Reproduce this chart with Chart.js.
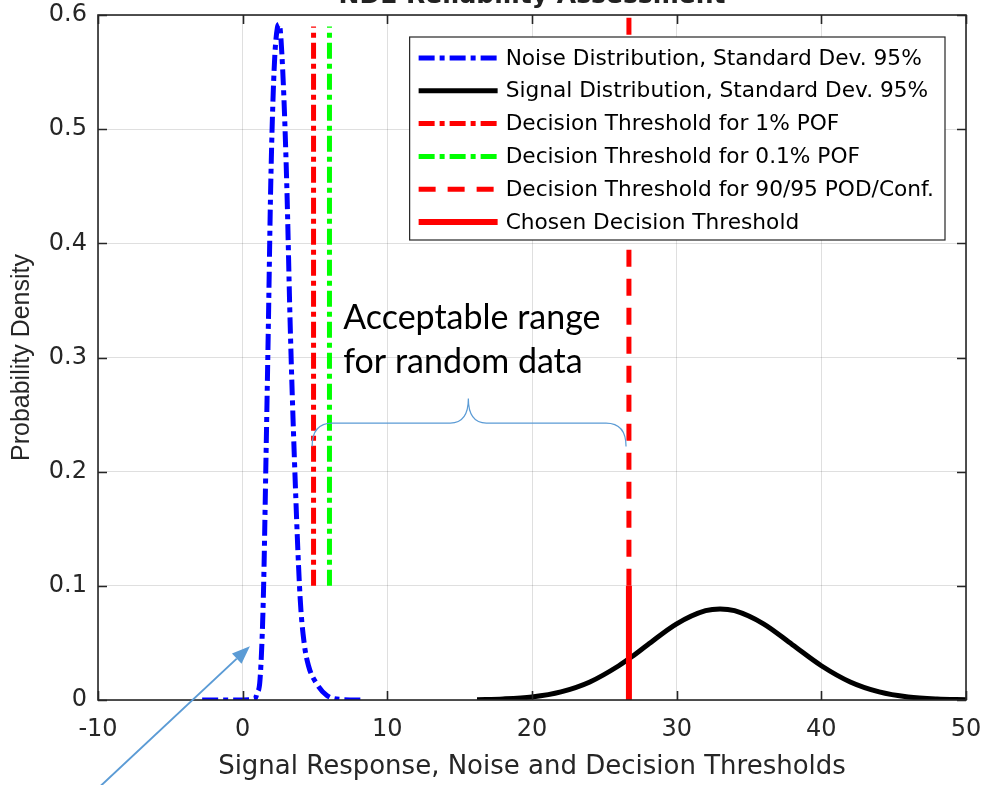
<!DOCTYPE html>
<html>
<head>
<meta charset="utf-8">
<title>NDE Reliability Assessment</title>
<script src="https://cdn.jsdelivr.net/npm/chart.js@4/dist/chart.umd.min.js"></script>
<style>
    body { margin: 0; background: #fff; }
    #wrap { width: 981px; height: 785px; }
</style>
</head>
<body>
<div id="wrap"><canvas id="ndeChart" width="981" height="785"></canvas></div>
<script>
// values
const noiseX = [-2.8, 0, 0.85, 1.0, 1.2, 1.43, 1.61, 1.78, 1.94, 2.17, 2.4, 2.52, 2.77, 3.05, 3.28, 3.58, 3.97, 4.25, 4.55, 5.13, 5.82, 6.74, 8.3];
const noiseY = [0, 0, 0.001, 0.006, 0.018, 0.09, 0.21, 0.331, 0.451, 0.551, 0.589, 0.592, 0.551, 0.451, 0.331, 0.21, 0.09, 0.05, 0.03, 0.014, 0.004, 0.0005, 0];

const signalX = [16.2, 18, 20, 22, 24, 26, 27, 28, 30, 32, 33, 34, 36, 38, 40, 42, 44, 46, 48, 50];
const signalY = [0.0003, 0.0009, 0.0027, 0.0071, 0.0158, 0.030, 0.0388, 0.0484, 0.0667, 0.0782, 0.0798, 0.0782, 0.0667, 0.0484, 0.030, 0.0158, 0.0071, 0.0027, 0.0009, 0.0003];

const pof1X = [4.9, 4.9];
const pof1Y = [0.1, 0.59];
const pof01X = [6.0, 6.0];
const pof01Y = [0.1, 0.59];
const podX = [26.7, 26.7];
const podY = [0.1, 0.6];
const chosenX = [26.7, 26.7];
const chosenY = [0, 0.1];

const xTicks = [-10, 0, 10, 20, 30, 40, 50];
const yTicks = [0, 0.1, 0.2, 0.3, 0.4, 0.5, 0.6];
const yTickLabels = ['0', '0.1', '0.2', '0.3', '0.4', '0.5', '0.6'];

const seriesNames = [
    'Noise Distribution, Standard Dev. 95%',
    'Signal Distribution, Standard Dev. 95%',
    'Decision Threshold for 1% POF',
    'Decision Threshold for 0.1% POF',
    'Decision Threshold for 90/95 POD/Conf.',
    'Chosen Decision Threshold'
];

// annotation anchors (data units)
const noteLines = ['Acceptable range', 'for random data'];
const noteAt = [6.95, 0.325];
const braceX = [4.8, 15.6, 26.5];      // left end, tip, right end
const braceY = [0.222, 0.2425, 0.264]; // ends, bar, tip
const arrowFrom = [-9.8, -0.075];
const arrowTo = [0.5, 0.047];

function pts(xs, ys) {
    return xs.map((x, i) => ({ x: x, y: ys[i] }));
}

const AXIS = '#262626';
const NOTE = '#5B9BD5';

Chart.defaults.font.family = "'DejaVu Sans', sans-serif";
Chart.defaults.color = AXIS;

const decor = {
    id: 'decor',
    afterDraw(chart) {
        const ctx = chart.ctx;
        const a = chart.chartArea;
        const sx = chart.scales.x, sy = chart.scales.y;
        ctx.save();

        // box + inward ticks
        ctx.strokeStyle = AXIS;
        ctx.lineWidth = 1.6;
        ctx.strokeRect(a.left, a.top, a.right - a.left, a.bottom - a.top);
        ctx.beginPath();
        xTicks.forEach(v => {
            const px = Math.round(sx.getPixelForValue(v)) + 0.5;
            ctx.moveTo(px, a.bottom); ctx.lineTo(px, a.bottom - 9);
            ctx.moveTo(px, a.top); ctx.lineTo(px, a.top + 9);
        });
        yTicks.forEach(v => {
            const py = Math.round(sy.getPixelForValue(v)) + 0.5;
            ctx.moveTo(a.left, py); ctx.lineTo(a.left + 9, py);
            ctx.moveTo(a.right, py); ctx.lineTo(a.right - 9, py);
        });
        ctx.stroke();

        // title, mostly cut off at the top edge
        ctx.fillStyle = '#222';
        ctx.font = "bold 25px 'DejaVu Sans'";
        ctx.textAlign = 'center';
        ctx.textBaseline = 'alphabetic';
        ctx.fillText('NDE Reliability Assessment', (a.left + a.right) / 2, 3);

        // text note
        ctx.fillStyle = '#000';
        ctx.font = "34px Lato";
        ctx.textAlign = 'left';
        const nx = sx.getPixelForValue(noteAt[0]);
        const ny = sy.getPixelForValue(noteAt[1]);
        noteLines.forEach((t, i) => ctx.fillText(t, nx, ny + i * 44));

        // curly brace
        const bl = sx.getPixelForValue(braceX[0]);
        const bt = sx.getPixelForValue(braceX[1]);
        const br = sx.getPixelForValue(braceX[2]);
        const yEnd = sy.getPixelForValue(braceY[0]);
        const yBar = sy.getPixelForValue(braceY[1]);
        const yTip = sy.getPixelForValue(braceY[2]);
        ctx.strokeStyle = NOTE;
        ctx.lineWidth = 1.2;
        ctx.beginPath();
        ctx.moveTo(bl, yEnd);
        ctx.quadraticCurveTo(bl, yBar, bl + 20, yBar);
        ctx.lineTo(bt - 18, yBar);
        ctx.quadraticCurveTo(bt, yBar, bt, yTip);
        ctx.quadraticCurveTo(bt, yBar, bt + 18, yBar);
        ctx.lineTo(br - 20, yBar);
        ctx.quadraticCurveTo(br, yBar, br, yEnd);
        ctx.stroke();

        // arrow
        const ax0 = sx.getPixelForValue(arrowFrom[0]), ay0 = sy.getPixelForValue(arrowFrom[1]);
        const ax1 = sx.getPixelForValue(arrowTo[0]), ay1 = sy.getPixelForValue(arrowTo[1]);
        const ang = Math.atan2(ay1 - ay0, ax1 - ax0);
        const hl = 18, hw = 7;
        const bx = ax1 - hl * Math.cos(ang), by = ay1 - hl * Math.sin(ang);
        ctx.lineWidth = 2;
        ctx.beginPath();
        ctx.moveTo(ax0, ay0);
        ctx.lineTo(bx, by);
        ctx.stroke();
        ctx.fillStyle = NOTE;
        ctx.beginPath();
        ctx.moveTo(ax1, ay1);
        ctx.lineTo(bx + hw * Math.sin(ang), by - hw * Math.cos(ang));
        ctx.lineTo(bx - hw * Math.sin(ang), by + hw * Math.cos(ang));
        ctx.closePath();
        ctx.fill();

        // legend box inside the axes
        ctx.font = "21.7px 'DejaVu Sans'";
        const sets = chart.data.datasets;
        let tw = 0;
        sets.forEach(d => { tw = Math.max(tw, ctx.measureText(d.label).width); });
        const boxW = 9 + 79 + 8 + tw + 11;
        const boxH = 203;
        const boxR = a.right - 21;
        const boxT = a.top + 22;
        const boxL = boxR - boxW;
        ctx.fillStyle = '#fff';
        ctx.fillRect(boxL, boxT, boxW, boxH);
        ctx.strokeStyle = AXIS;
        ctx.lineWidth = 1.2;
        ctx.strokeRect(boxL, boxT, boxW, boxH);
        ctx.textBaseline = 'middle';
        sets.forEach((d, i) => {
            const ry = boxT + 21 + i * 32.8;
            ctx.strokeStyle = d.borderColor;
            ctx.lineWidth = d.borderWidth;
            ctx.setLineDash(d.borderDash || []);
            ctx.beginPath();
            ctx.moveTo(boxL + 9, ry);
            ctx.lineTo(boxL + 88, ry);
            ctx.stroke();
            ctx.setLineDash([]);
            ctx.fillStyle = '#000';
            ctx.fillText(d.label, boxL + 96, ry + 1);
        });
        ctx.restore();
    }
};

const common = { pointRadius: 0, fill: false, borderCapStyle: 'butt' };

new Chart(document.getElementById('ndeChart'), {
    type: 'line',
    data: {
        datasets: [
            { ...common, label: seriesNames[0], data: pts(noiseX, noiseY), borderColor: '#0000ff', borderWidth: 5, borderDash: [16, 5, 5, 5], cubicInterpolationMode: 'monotone', order: 6 },
            { ...common, label: seriesNames[1], data: pts(signalX, signalY), borderColor: '#000000', borderWidth: 5, cubicInterpolationMode: 'monotone', order: 5 },
            { ...common, label: seriesNames[2], data: pts(pof1X, pof1Y), borderColor: '#ff0000', borderWidth: 5, borderDash: [16, 5, 5, 5], order: 4 },
            { ...common, label: seriesNames[3], data: pts(pof01X, pof01Y), borderColor: '#00ff00', borderWidth: 5, borderDash: [16, 5, 5, 5], order: 3 },
            { ...common, label: seriesNames[4], data: pts(podX, podY), borderColor: '#ff0000', borderWidth: 5, borderDash: [17, 12], order: 2 },
            { ...common, label: seriesNames[5], data: pts(chosenX, chosenY), borderColor: '#ff0000', borderWidth: 6, order: 1 }
        ]
    },
    options: {
        responsive: false,
        animation: false,
        layout: { padding: { top: 15, right: 15, left: 0, bottom: 0 } },
        plugins: {
            legend: { display: false },
            tooltip: { enabled: false }
        },
        scales: {
            x: {
                type: 'linear',
                min: -10,
                max: 50,
                afterBuildTicks: s => { s.ticks = xTicks.map(v => ({ value: v })); },
                afterFit: s => { s.height = 85; s.paddingLeft = 0; s.paddingRight = 0; },
                ticks: { font: { size: 24 }, padding: 15, maxRotation: 0, callback: v => String(v) },
                grid: { color: 'rgba(38,38,38,0.15)', drawTicks: false },
                border: { display: false },
                title: {
                    display: true,
                    text: 'Signal Response, Noise and Decision Thresholds',
                    font: { size: 26 },
                    padding: { top: 0, bottom: 2 }
                }
            },
            y: {
                type: 'linear',
                min: 0,
                max: 0.6,
                afterBuildTicks: s => { s.ticks = yTicks.map(v => ({ value: v })); },
                afterFit: s => { s.width = 98; s.paddingTop = 0; s.paddingBottom = 0; },
                ticks: { font: { size: 24 }, padding: 11, callback: (v, i) => yTickLabels[i] },
                grid: { color: 'rgba(38,38,38,0.15)', drawTicks: false },
                border: { display: false },
                title: {
                    display: true,
                    text: 'Probability Density',
                    font: { size: 25, family: "'Liberation Sans', Arial, sans-serif" },
                    padding: { top: 7, bottom: 0 }
                }
            }
        }
    },
    plugins: [decor]
});
</script>
</body>
</html>
